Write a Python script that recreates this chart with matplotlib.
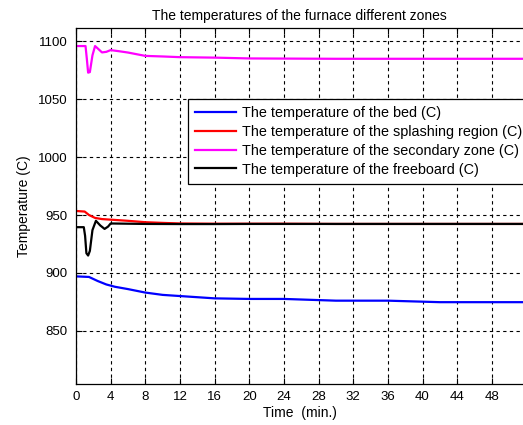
import matplotlib
matplotlib.use("Agg")
import matplotlib.pyplot as plt

plt.rcParams["font.family"] = ["Liberation Sans", "DejaVu Sans"]

# data
t_bed = [0, 1.5, 2.5, 3.5, 4.5, 6, 8, 10, 12, 14, 16, 20, 24, 30, 36, 42, 48, 52]
bed = [897, 896.5, 893, 890, 888, 886, 883, 881, 880, 879, 878, 877.5, 877.5, 876, 876, 874.7, 874.7, 874.7]

t_spl = [0, 1.0, 1.5, 2.2, 3, 4, 6, 8, 10, 12, 16, 20, 24, 30, 40, 52]
spl = [953.5, 953, 950, 947.5, 946.5, 946, 945, 943.8, 943.2, 942.7, 942.5, 942.5, 942.5, 942.3, 942.3, 942.3]

t_sec = [0, 1.1, 1.25, 1.4, 1.6, 1.9, 2.2, 2.5, 3.0, 3.5, 4, 5, 6, 8, 10, 12, 16, 20, 30, 40, 52]
sec = [1096, 1096, 1085, 1073, 1073.5, 1088, 1096, 1094, 1090.5, 1091, 1092.5, 1091.5, 1090.4, 1087.5, 1087, 1086.4, 1086, 1085.3, 1085, 1085, 1085]

t_fre = [0, 0.9, 1.05, 1.2, 1.4, 1.6, 1.9, 2.3, 2.8, 3.3, 3.7, 4, 6, 8, 12, 16, 20, 30, 40, 52]
fre = [939.5, 939.5, 932, 917, 915, 919, 937, 945, 941, 938, 940, 942.7, 942.5, 942.3, 942.2, 942.2, 942.3, 942.3, 942.3, 942.3]

labels = ["The temperature of the bed (C)",
          "The temperature of the splashing region (C)",
          "The temperature of the secondary zone (C)",
          "The temperature of the freeboard (C)"]
colors = ["#0000ff", "#ff0000", "#ff00ff", "#000000"]

xticks = list(range(0, 49, 4))
yticks = [850, 900, 950, 1000, 1050, 1100]

fig = plt.figure(figsize=(5.23, 4.25), dpi=100)
ax = fig.add_axes([76/523, 41/425, 1 - 76/523, (384-28)/425])

series = [(t_bed, bed), (t_spl, spl), (t_sec, sec), (t_fre, fre)]
for (t, v), lab, c in zip(series, labels, colors):
    ax.plot(t, v, color=c, lw=1.6, label=lab)

ax.set_xlim(0, 51.6)
ax.set_ylim(804, 1111.6)
ax.set_xticks(xticks)
ax.set_yticks(yticks)
ax.grid(True, color="black", linestyle=(0, (3, 3)), linewidth=0.8)
ax.tick_params(direction="in", top=True, right=False, labelsize=9.5, length=4)
ax.tick_params(axis="y", pad=6)
ax.tick_params(axis="x", pad=5)
ax.spines["right"].set_visible(False)
for s in ["left", "top", "bottom"]:
    ax.spines[s].set_linewidth(0.9)

ax.set_title("The temperatures of the furnace different zones", fontsize=10, pad=6)
ax.set_xlabel("Time  (min.)", fontsize=10, labelpad=2)
ax.set_ylabel("Temperature (C)", fontsize=10, labelpad=5)

leg = ax.legend(loc="upper left", bbox_to_anchor=(188/523, 1 - 99/425),
                bbox_transform=fig.transFigure, borderaxespad=0,
                fontsize=10.4, frameon=True, fancybox=False, handlelength=2.8,
                labelspacing=0.33, borderpad=0.5, handletextpad=0.42)
leg.get_frame().set_edgecolor("black")
leg.get_frame().set_linewidth(0.9)
leg.get_frame().set_alpha(1)

fig.savefig("out.png", dpi=100)
